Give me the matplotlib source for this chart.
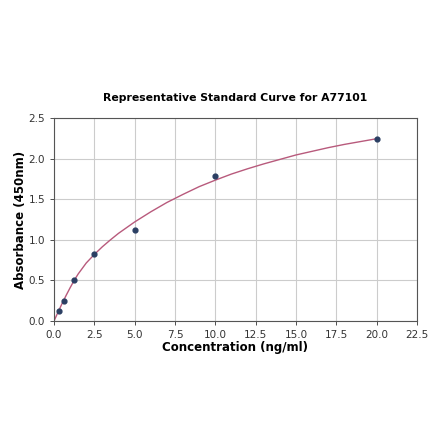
import matplotlib.pyplot as plt

# standard points
conc = [0.3125, 0.625, 1.25, 2.5, 5, 10, 20]
absorb = [0.12, 0.25, 0.50, 0.82, 1.12, 1.79, 2.24]

# fitted curve
curve_x = [0, 0.25, 0.5, 0.75, 1, 1.25, 1.5, 2, 2.5, 3, 3.5, 4, 4.5, 5,
           6, 7, 7.5, 8, 9, 10, 11, 12, 12.5, 13, 14, 15, 16, 17, 17.5, 18, 19, 20]
curve_y = [0, 0.11, 0.215, 0.315, 0.41, 0.50, 0.58, 0.715, 0.82, 0.915, 1.0, 1.08, 1.15, 1.22,
           1.345, 1.46, 1.51, 1.56, 1.655, 1.735, 1.81, 1.875, 1.905, 1.935, 1.99, 2.045,
           2.09, 2.135, 2.155, 2.175, 2.21, 2.245]

xticks = [0, 2.5, 5, 7.5, 10, 12.5, 15, 17.5, 20, 22.5]
yticks = [0, 0.5, 1.0, 1.5, 2.0, 2.5]

fig = plt.figure(figsize=(4.4, 4.41), dpi=100)
ax = fig.add_axes([0.1227, 0.272, 0.825, 0.4604])

ax.plot(curve_x, curve_y, color='#b85a7c', linewidth=1.0, zorder=2)
ax.scatter(conc, absorb, s=12, color='#2b3f63', zorder=3)

ax.set_xlim(0, 22.5)
ax.set_ylim(0, 2.5)
ax.set_xticks(xticks)
ax.set_yticks(yticks)
ax.grid(True, color='#cccccc', linewidth=0.8)
ax.set_axisbelow(True)
for s in ax.spines.values():
    s.set_color('#555555')
    s.set_linewidth(0.8)
ax.tick_params(labelsize=7.5, colors='#333333', length=3, width=0.6)

ax.set_title("Representative Standard Curve for A77101", fontsize=7.8, fontweight='bold', pad=12)
ax.set_xlabel("Concentration (ng/ml)", fontsize=8.5, fontweight='bold', labelpad=1)
ax.set_ylabel("Absorbance (450nm)", fontsize=8.5, fontweight='bold', labelpad=1)

fig.savefig("out.png", dpi=100)
